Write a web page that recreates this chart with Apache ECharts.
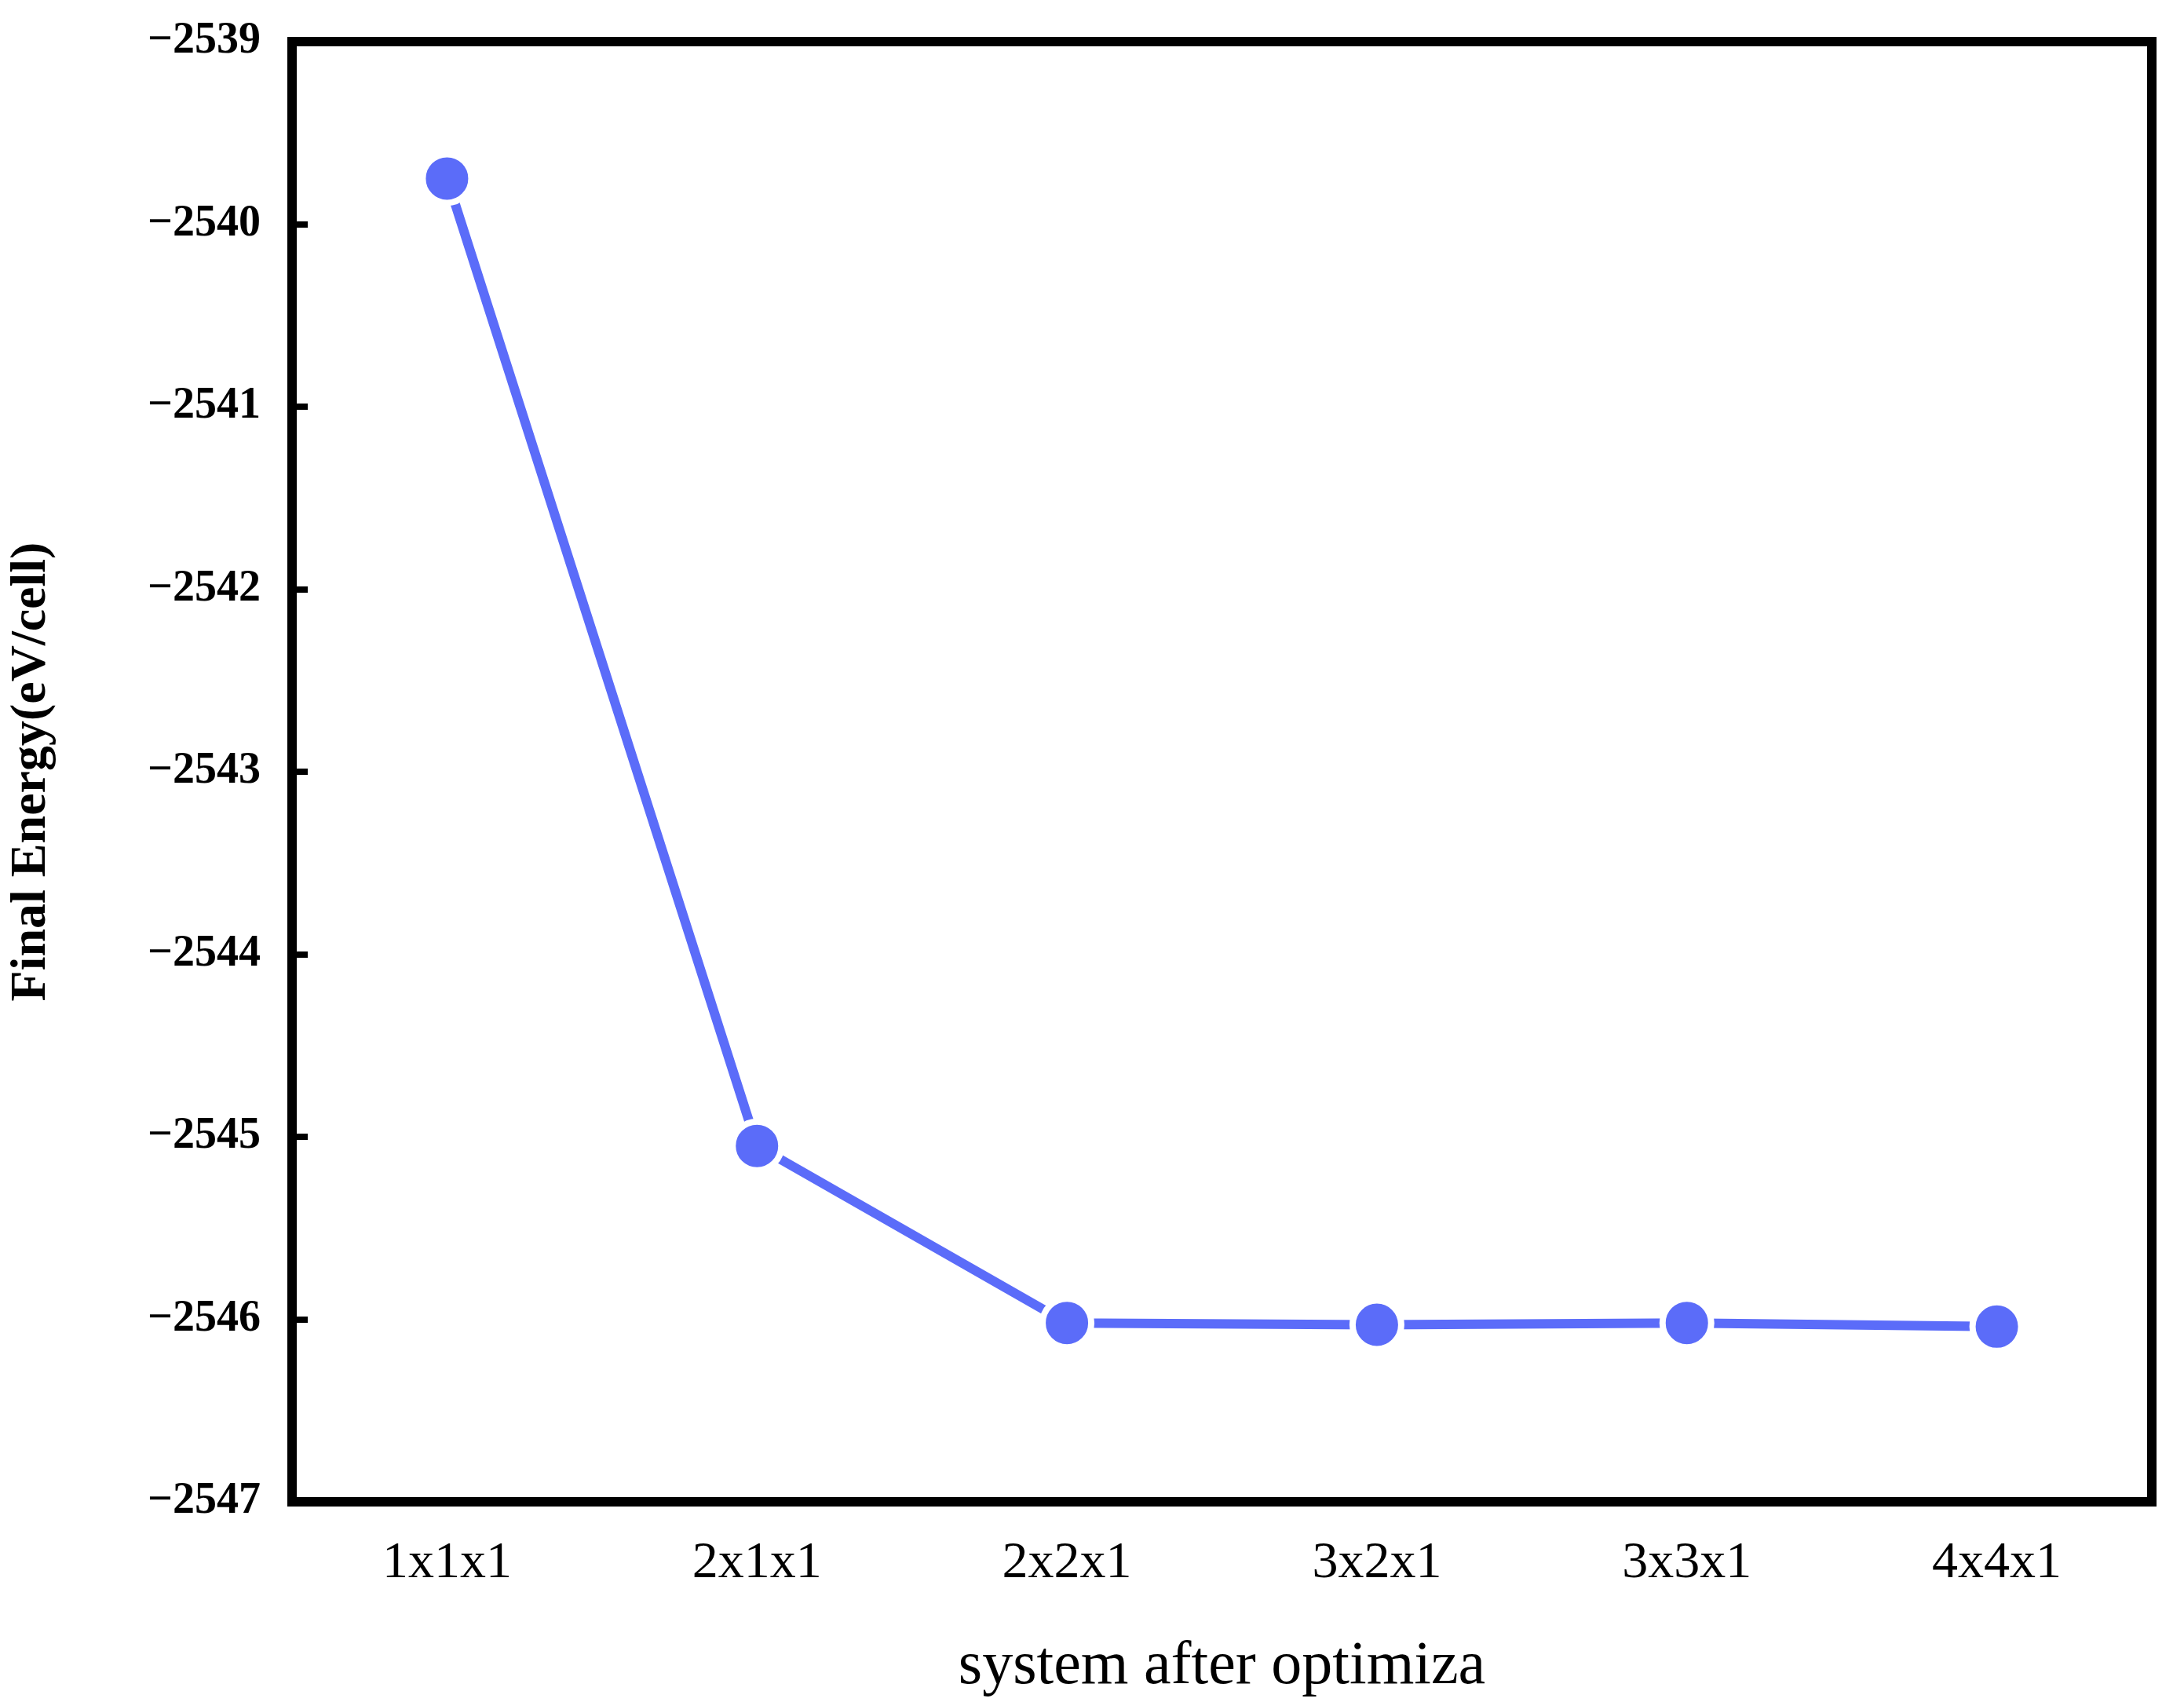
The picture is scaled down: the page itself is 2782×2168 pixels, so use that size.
<!DOCTYPE html>
<html><head><meta charset="utf-8">
<script src="https://cdn.jsdelivr.net/npm/echarts@6/dist/echarts.min.js"></script>
<style>html,body{margin:0;background:#fff}#c{width:2782px;height:2168px}</style>
</head><body><div id="c"></div>
<script>
const categories = ['1x1x1','2x1x1','2x2x1','3x2x1','3x3x1','4x4x1'];
const energies = [-2539.75, -2545.05, -2546.02, -2546.03, -2546.02, -2546.04];
const yTicks = {min: -2547, max: -2539, interval: 1};
const chart = echarts.init(document.getElementById('c'));
chart.setOption({
  animation: false,
  backgroundColor: '#fff',
  grid: {left: 364, right: 41, top: 53, bottom: 248, show: true, borderColor: '#000', borderWidth: 12, backgroundColor: 'transparent'},
  xAxis: {
    type: 'category', data: categories, boundaryGap: true,
    name: 'system after optimiza', nameLocation: 'middle', nameGap: 172,
    nameTextStyle: {fontFamily: 'Liberation Serif', fontSize: 78, color: '#000'},
    axisLine: {lineStyle: {color: '#000', width: 12}},
    axisTick: {inside: true, alignWithLabel: true, length: 28, lineStyle: {color: '#000', width: 10}},
    axisLabel: {fontFamily: 'Liberation Serif', fontSize: 66, color: '#000', margin: 46},
    splitLine: {show: false}
  },
  yAxis: {
    type: 'value', min: yTicks.min, max: yTicks.max, interval: yTicks.interval,
    name: 'Final Energy(eV/cell)', nameLocation: 'middle', nameGap: 300,
    nameTextStyle: {fontFamily: 'Liberation Serif', fontWeight: 'bold', fontSize: 64, color: '#000'},
    axisLine: {show: true, lineStyle: {color: '#000', width: 12}},
    axisTick: {show: true, inside: true, length: 20, lineStyle: {color: '#000', width: 8}},
    axisLabel: {fontFamily: 'Liberation Serif', fontWeight: 'bold', fontSize: 56, color: '#000', margin: 40,
      formatter: v => String(v).replace('-', '\u2212')},
    splitLine: {show: false}
  },
  series: [{
    type: 'line', data: energies,
    lineStyle: {color: '#5b6cf9', width: 12},
    itemStyle: {color: '#5b6cf9', borderColor: '#fff', borderWidth: 8},
    symbol: 'circle', symbolSize: 62
  }]
});
</script></body></html>
